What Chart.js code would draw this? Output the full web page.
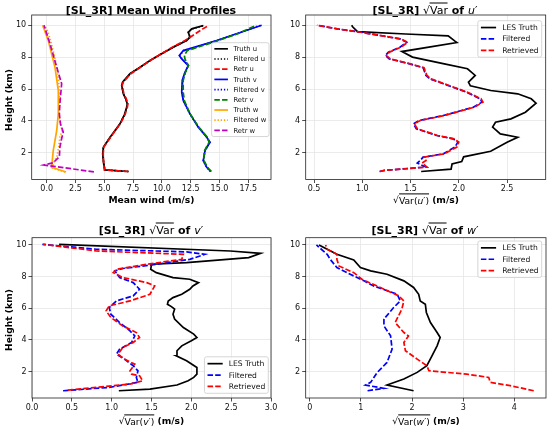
<!DOCTYPE html>
<html><head><meta charset="utf-8">
<script src="https://cdn.jsdelivr.net/npm/chart.js@4.4.1/dist/chart.umd.min.js"></script>
<style>
html,body{margin:0;padding:0;background:#fff;}
#wrap{position:relative;width:550px;height:431px;overflow:hidden;font-family:"DejaVu Sans",sans-serif;color:#000;}
.cv{position:absolute;left:0;top:0;width:550px;height:431px;}
.lbl{position:absolute;transform:translate(-50%,-50%);white-space:nowrap;line-height:1;}
.t{font-size:11px;font-weight:bold;}
.x{font-size:9.2px;font-weight:bold;}
.y{font-size:9.2px;font-weight:bold;transform:translate(-50%,-50%) rotate(-90deg);}
.m{font-weight:normal;}
.ov{border-top:0.8px solid #000;padding-top:0.5px;}
</style></head>
<body>
<div id="wrap">
  <div class="cv"><canvas id="c1"></canvas></div>
  <div class="cv"><canvas id="c2"></canvas></div>
  <div class="cv"><canvas id="c3"></canvas></div>
  <div class="cv"><canvas id="c4"></canvas></div>

  <div class="lbl t" style="left:151px;top:10px">[SL_3R] Mean Wind Profiles</div>
  <div class="lbl t" style="left:425px;top:10px">[SL_3R] <span class="m">√<span class="ov">Var</span></span> of <span class="m"><i>u</i>′</span></div>
  <div class="lbl t" style="left:151px;top:230px">[SL_3R] <span class="m">√<span class="ov">Var</span></span> of <span class="m"><i>v</i>′</span></div>
  <div class="lbl t" style="left:425px;top:230px">[SL_3R] <span class="m">√<span class="ov">Var</span></span> of <span class="m"><i>w</i>′</span></div>

  <div class="lbl x" style="left:151.5px;top:200px">Mean wind (m/s)</div>
  <div class="lbl x" style="left:426px;top:200px"><span class="m">√<span class="ov">Var(<i>u</i>′)</span></span> (m/s)</div>
  <div class="lbl x" style="left:151.5px;top:421px"><span class="m">√<span class="ov">Var(<i>v</i>′)</span></span> (m/s)</div>
  <div class="lbl x" style="left:426px;top:421px"><span class="m">√<span class="ov">Var(<i>w</i>′)</span></span> (m/s)</div>

  <div class="lbl y" style="left:8.5px;top:100px">Height (km)</div>
  <div class="lbl y" style="left:8.5px;top:320px">Height (km)</div>
</div>
<script>
// tick labels
const yTicks = [2, 4, 6, 8, 10];
const xTicks1 = [0, 2.5, 5, 7.5, 10, 12.5, 15, 17.5];
const xTicks2 = [0.5, 1, 1.5, 2, 2.5];
const xTicks3 = [0, 0.5, 1, 1.5, 2, 2.5, 3];
const xTicks4 = [0, 1, 2, 3, 4];

// panel 1: mean wind (heights in km, winds in m/s)
const hU = [0.83,0.93,1.3,1.93,2.35,2.98,3.4,3.82,4.4,4.86,5.07,5.4,5.7,6.23,6.44,6.96,7.37,7.79,8.15,8.62,9.04,9.25,9.56,9.77,9.98];
const truthU = [7.09,5.06,4.95,4.86,4.92,5.5,5.93,6.36,6.75,6.94,7.0,6.85,6.65,6.51,6.6,7.23,8.1,8.97,9.83,10.99,12.15,12.44,12.29,12.59,13.6];
const filtU = [7.1,5.04,4.96,4.87,4.93,5.52,5.95,6.37,6.77,6.95,7.01,6.86,6.66,6.52,6.62,7.25,8.12,8.98,9.82,10.97,12.12,12.42,12.3,12.62,13.65];
const retrU = [7.1,5.0,4.95,4.9,4.95,5.55,5.95,6.4,6.8,7.0,7.05,6.9,6.7,6.55,6.65,7.3,8.15,9.0,9.8,10.9,12.0,12.45,13.1,13.55,14.05];
const hV = [0.83,1.1,1.52,2.14,2.67,2.98,3.61,4.44,5.27,5.8,6.55,7.05,7.47,7.89,8.1,8.41,9.04,9.5,10.0];
const truthV = [14.24,13.89,13.59,13.74,14.18,13.89,13.16,12.44,11.86,11.72,11.77,12.0,12.29,11.72,11.51,11.86,14.76,16.6,18.66];
const filtV = [14.22,13.88,13.6,13.75,14.15,13.9,13.18,12.42,11.88,11.74,11.8,12.02,12.3,11.75,11.55,11.9,14.8,16.65,18.6];
const retrV = [14.3,13.95,13.65,13.7,14.1,13.95,13.2,12.45,11.95,11.85,11.85,12.05,12.3,12.0,11.95,12.2,14.9,16.7,18.2];
const hW = [0.8,1.1,2.14,3.4,4.45,5.9,7.37,9.04,10.0];
const truthW = [1.68,0.43,0.57,0.87,1.01,1.01,0.72,0.14,-0.35];
const hWf = [0.8,1.05,1.3,1.8,2.4,3.0,3.4,3.9,4.5,5.2,6.0,7.0,8.0,9.0,9.6,10.0];
const filtW = [1.6,0.5,0.55,0.9,1.05,1.15,1.35,1.15,1.05,1.1,1.1,0.95,0.7,0.35,0.1,-0.2];
const hWr = [0.81,1.24,1.38,1.76,2.37,2.9,3.3,3.8,4.45,5.1,5.7,6.33,7.37,8.83,10.0];
const retrW = [4.1,-0.23,0.57,1.1,1.15,1.3,1.44,1.2,1.1,1.15,1.22,1.3,0.87,0.29,-0.23];

// panel 2: sqrt Var u'
const h2T = [0.83,0.98,1.3,1.45,1.75,2.1,2.67,2.98,3.19,3.61,3.92,4.13,4.55,5.11,5.39,5.7,5.91,6.2,6.43,6.85,7.27,7.58,8.0,8.35,8.91,9.0,9.33,9.45,9.6,9.9,10.0];
const truth2 = [1.61,1.92,1.93,2.03,2.05,2.33,2.5,2.61,2.43,2.35,2.38,2.54,2.69,2.8,2.75,2.61,2.33,2.12,2.1,2.17,2.09,1.85,1.52,1.41,1.98,1.96,1.89,1.45,0.95,0.9,0.89];
const h2 = [0.83,0.9,1.11,1.36,1.52,1.73,1.94,2.36,2.67,2.88,3.09,3.51,3.82,4.03,4.34,4.86,5.18,5.39,5.8,6.33,6.64,6.85,7.33,7.58,7.89,8.1,8.31,8.62,8.93,9.14,9.56,9.77,10.0];
const filt2 = [1.18,1.23,1.66,1.57,1.6,1.63,1.84,1.96,1.99,1.94,1.77,1.56,1.53,1.59,1.84,2.15,2.24,2.22,2.08,1.84,1.7,1.66,1.63,1.49,1.28,1.24,1.27,1.39,1.46,1.39,0.99,0.74,0.53];
const retr2 = [1.18,1.23,1.67,1.62,1.66,1.64,1.85,1.98,2.0,1.95,1.78,1.57,1.54,1.6,1.85,2.16,2.25,2.23,2.09,1.85,1.71,1.67,1.64,1.5,1.29,1.25,1.28,1.4,1.47,1.4,0.98,0.74,0.53];

// panel 3: sqrt Var v'
const h3T = [0.78,0.88,1.14,1.41,1.62,1.83,2.25,2.67,2.99,3.31,3.62,3.94,4.15,4.36,4.78,5.31,5.62,5.94,6.1,6.25,6.46,6.67,6.88,7.2,7.41,7.62,7.83,7.94,8.25,8.46,8.78,8.88,9.2,9.47,9.62,10.04];
const truth3 = [1.09,1.48,1.82,1.96,2.03,2.07,2.07,1.94,1.81,1.82,1.88,2.0,2.07,2.03,1.9,1.79,1.77,1.79,1.75,1.7,1.71,1.77,1.88,1.98,2.02,2.09,1.98,1.77,1.56,1.49,1.5,1.94,2.72,2.87,2.49,0.34];
const h3F = [0.78,0.99,1.31,1.62,2.04,2.36,2.78,3.09,3.41,3.83,4.25,4.57,5.09,5.62,6.04,6.46,6.78,7.2,7.62,7.94,8.36,8.51,8.78,9.09,9.41,9.56,9.73,10.04];
const filt3 = [0.39,0.97,1.33,1.31,1.33,1.27,1.16,1.06,1.1,1.25,1.29,1.23,1.1,0.99,0.97,1.06,1.27,1.35,1.27,1.1,1.04,1.14,1.56,1.98,2.17,1.94,0.81,0.13];
const h3R = [0.82,1.2,1.41,1.73,1.83,2.04,2.46,2.78,3.09,3.52,3.83,4.15,4.46,4.88,5.41,5.83,6.15,6.46,6.88,7.41,7.62,7.94,8.25,8.46,8.78,9.09,9.41,9.62,10.04];
const retr3 = [0.45,1.23,1.39,1.35,1.25,1.23,1.29,1.16,1.08,1.14,1.27,1.35,1.31,1.14,0.99,0.93,0.97,1.23,1.48,1.54,1.44,1.14,1.02,1.06,1.44,1.88,1.9,0.81,0.14];

// panel 4: sqrt Var w'
const h4T = [0.78,1.14,1.52,1.94,2.36,2.99,3.62,4.15,4.46,5.09,5.73,6.25,6.46,6.88,7.31,7.73,8.15,8.36,8.57,9.05,9.41,10.0];
const truth4 = [2.03,1.51,1.84,2.1,2.29,2.39,2.49,2.55,2.49,2.36,2.28,2.26,2.16,2.13,2.03,1.84,1.51,1.19,0.99,0.86,0.53,0.18];
const h4F = [0.78,0.93,1.14,1.31,1.94,2.57,3.41,4.25,4.88,5.31,6.04,6.46,6.88,7.41,7.73,8.15,8.57,9.09,9.41,10.0];
const filt4 = [1.13,1.45,1.09,1.19,1.32,1.51,1.61,1.58,1.45,1.45,1.64,1.77,1.71,1.25,1.06,0.79,0.53,0.4,0.34,0.13];
const h4R = [0.78,1.1,1.31,1.62,1.83,2.04,2.36,2.78,3.31,3.83,4.25,4.46,5.09,5.94,6.46,6.78,7.31,7.83,8.25,8.67,9.09,9.41,9.73,10.0];
const retr4 = [4.38,3.92,3.53,3.5,3.07,2.33,2.29,2.1,1.87,1.84,1.93,1.84,1.67,1.8,1.84,1.74,1.38,1.02,0.86,0.57,0.53,0.53,0.34,0.31];

const FONT = '"DejaVu Sans", sans-serif';
const SOLID = [], DASH = [5.5, 2.2], DOT = [1.3, 1.9];

let pts = (xs, hs) => xs.map((v, i) => ({ x: v, y: hs[i] }));
let ln = (label, xs, hs, color, dash) => ({
  label: label, data: pts(xs, hs), borderColor: color, backgroundColor: color,
  borderWidth: 1.7, borderDash: dash, pointRadius: 0, showLine: true, fill: false, tension: 0
});

// black frame round the plot area (all four sides, like matplotlib)
const frame = {
  id: 'frame',
  afterDraw(chart) {
    const a = chart.chartArea, ctx = chart.ctx;
    ctx.save();
    ctx.strokeStyle = '#222';
    ctx.lineWidth = 0.8;
    ctx.strokeRect(a.left, a.top, a.right - a.left, a.bottom - a.top);
    ctx.restore();
  }
};

// legend box drawn inside the plot area
const boxLegend = {
  id: 'boxLegend',
  afterDatasetsDraw(chart, args, o) {
    const ctx = chart.ctx, a = chart.chartArea, ds = chart.data.datasets;
    const fs = o.size;
    ctx.save();
    ctx.font = fs + 'px ' + FONT;
    const tw = Math.max(...ds.map(d => ctx.measureText(d.label).width));
    const pad = fs * 0.4, hl = fs * 2, gap = fs * 0.8, row = fs * 1.5;
    const w = pad + hl + gap + tw + pad;
    const h = pad * 2 + row * ds.length - fs * 0.5;
    const x = a.right - o.right - w;
    const y = o.top != null ? a.top + o.top : a.bottom - o.bottom - h;
    ctx.beginPath();
    ctx.roundRect(x, y, w, h, 2);
    ctx.fillStyle = 'rgba(255,255,255,0.8)';
    ctx.fill();
    ctx.strokeStyle = '#cccccc';
    ctx.lineWidth = 0.8;
    ctx.stroke();
    ds.forEach((d, i) => {
      const cy = y + pad + row * i + fs * 0.5;
      ctx.beginPath();
      ctx.setLineDash(d.borderDash || []);
      ctx.strokeStyle = d.borderColor;
      ctx.lineWidth = d.borderWidth;
      ctx.moveTo(x + pad, cy);
      ctx.lineTo(x + pad + hl, cy);
      ctx.stroke();
      ctx.setLineDash([]);
      ctx.fillStyle = '#111';
      ctx.textBaseline = 'middle';
      ctx.fillText(d.label, x + pad + hl + gap, cy + 0.5);
    });
    ctx.restore();
  }
};

let makeChart = (id, box, xr, yr, xt, xfmt, datasets, leg) => {
  const yw = 30, xh = 20;
  const n = datasets.length;
  datasets.forEach((d, i) => { d.order = n - i; });
  new Chart(document.getElementById(id), {
    type: 'scatter',
    data: { datasets: datasets },
    options: {
      responsive: true, maintainAspectRatio: false, animation: false, events: [],
      layout: { padding: { left: box.l - yw, top: box.t, right: 550 - box.r, bottom: 431 - box.b - xh } },
      plugins: { legend: { display: false }, tooltip: { enabled: false }, boxLegend: leg },
      scales: {
        x: {
          type: 'linear', min: xr[0], max: xr[1],
          afterFit: s => { s.height = xh; },
          afterBuildTicks: s => { s.ticks = xt.map(v => ({ value: v })); },
          ticks: { autoSkip: false, maxRotation: 0, padding: 1.5, color: '#111',
                   font: { family: FONT, size: 8 }, callback: v => xfmt(v) },
          grid: { color: '#e6e6e6', lineWidth: 0.8, tickLength: 3.5, tickColor: '#222', tickWidth: 0.8 },
          border: { display: false }
        },
        y: {
          type: 'linear', min: yr[0], max: yr[1],
          afterFit: s => { s.width = yw; },
          afterBuildTicks: s => { s.ticks = yTicks.map(v => ({ value: v })); },
          ticks: { autoSkip: false, padding: 2, color: '#111',
                   font: { family: FONT, size: 8 }, callback: v => String(v) },
          grid: { color: '#e6e6e6', lineWidth: 0.8, tickLength: 3.5, tickColor: '#222', tickWidth: 0.8 },
          border: { display: false }
        }
      }
    },
    plugins: [frame, boxLegend]
  });
};

const f1 = v => v.toFixed(1);
const f0 = v => String(v);

makeChart('c1', { l: 31.7, t: 15, r: 271, b: 179.5 }, [-1.3, 19.47], [0.33, 10.64], xTicks1, f1, [
  ln('Truth u', truthU, hU, '#000000', SOLID),
  ln('Filtered u', filtU, hU, '#000000', DOT),
  ln('Retr u', retrU, hU, '#ff0000', DASH),
  ln('Truth v', truthV, hV, '#0000ff', SOLID),
  ln('Filtered v', filtV, hV, '#0000ff', DOT),
  ln('Retr v', retrV, hV, '#008000', DASH),
  ln('Truth w', truthW, hW, '#ffa500', SOLID),
  ln('Filtered w', filtW, hWf, '#ffa500', DOT),
  ln('Retr w', retrW, hWr, '#bf00bf', DASH)
], { size: 6.8, right: 2, top: 27.7 });

makeChart('c2', { l: 305.7, t: 15, r: 545.7, b: 179.5 }, [0.414, 2.9], [0.33, 10.64], xTicks2, f1, [
  ln('LES Truth', truth2, h2T, '#000000', SOLID),
  ln('Filtered', filt2, h2, '#0000ff', DASH),
  ln('Retrieved', retr2, h2, '#ff0000', DASH)
], { size: 7.6, right: 4, top: 5.7 });

makeChart('c3', { l: 32, t: 237.7, r: 271, b: 398 }, [0, 3], [0.32, 10.46], xTicks3, f1, [
  ln('LES Truth', truth3, h3T, '#000000', SOLID),
  ln('Filtered', filt3, h3F, '#0000ff', DASH),
  ln('Retrieved', retr3, h3R, '#ff0000', DASH)
], { size: 7.6, right: 2.7, bottom: 4.7 });

makeChart('c4', { l: 305.7, t: 237.7, r: 546, b: 398 }, [-0.08, 4.62], [0.32, 10.46], xTicks4, f0, [
  ln('LES Truth', truth4, h4T, '#000000', SOLID),
  ln('Filtered', filt4, h4F, '#0000ff', DASH),
  ln('Retrieved', retr4, h4R, '#ff0000', DASH)
], { size: 7.6, right: 4.3, top: 3.3 });
</script>
</body></html>
